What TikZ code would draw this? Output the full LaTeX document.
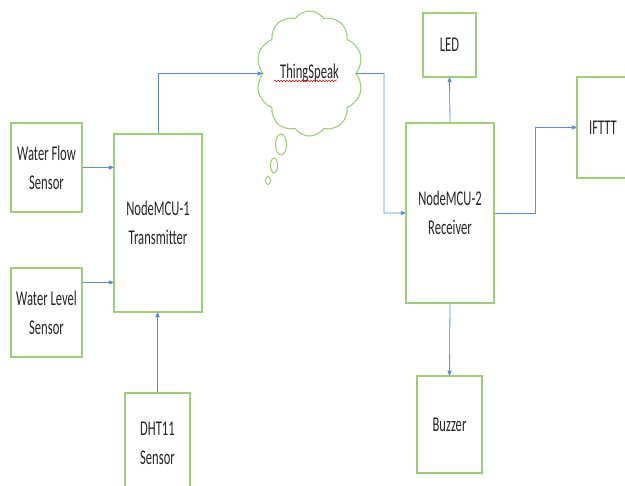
\documentclass[tikz,border=0pt]{standalone}
\usepackage{fontspec}
\setmainfont[FakeStretch=0.6]{Carlito}
\usetikzlibrary{arrows,shapes.symbols,decorations.pathmorphing}
\definecolor{boxgreen}{RGB}{156,208,120}
\definecolor{linkblue}{RGB}{92,140,222}

\begin{document}
\begin{tikzpicture}[->,>=stealth',x=1pt,y=-1pt,
  block/.style={draw=boxgreen,line width=1.1pt,rectangle,align=center,inner sep=0pt,
    text=black!85,font=\fontsize{21}{29}\selectfont},
  link/.style={color=linkblue,line width=0.8pt}]
\useasboundingbox (0,0) rectangle (625,486);

\node[block,minimum width=71pt,minimum height=89pt]  (flow)   at (46.5,167.5) {Water Flow\\Sensor};
\node[block,minimum width=71pt,minimum height=89pt]  (level)  at (46.5,312.5) {Water Level\\Sensor};
\node[block,minimum width=88pt,minimum height=178pt] (mcu1)   at (158,223)    {NodeMCU-1\\Transmitter};
\node[block,minimum width=65pt,minimum height=101pt] (dht)    at (157.5,443.5) {DHT11\\Sensor};
\node[block,cloud,cloud puffs=10,cloud puff arc=110,cloud ignores aspect,
      minimum width=107pt,minimum height=125pt]        (ts)     at (309.5,73.5) {ThingSpeak};
\node[block,minimum width=88pt,minimum height=180pt] (mcu2)   at (450,213)    {NodeMCU-2\\Receiver};
\node[block,minimum width=53pt,minimum height=64pt]  (led)    at (449.5,45)   {LED};
\node[block,minimum width=52pt,minimum height=101pt] (ifttt)  at (603,127.5)  {IFTTT};
\node[block,minimum width=65pt,minimum height=97pt]  (buzzer) at (449.5,424.5) {Buzzer};

\draw[-,boxgreen,line width=1.1pt] (281,144.5) ellipse [x radius=5.5pt,y radius=10.5pt];
\draw[-,boxgreen,line width=1.1pt] (274,165.5) ellipse [x radius=3.5pt,y radius=7.5pt];
\draw[-,boxgreen,line width=1.1pt] (268,180.5) ellipse [x radius=2.5pt,y radius=4pt];
\draw[-,red,line width=0.5pt,decorate,decoration={snake,amplitude=0.8pt,segment length=3pt}]
  ([xshift=-35.5pt,yshift=-7.5pt]ts.center) -- ([xshift=27.5pt,yshift=-7.5pt]ts.center);

\coordinate (levelout) at ([yshift=-15pt]level.north east);
\coordinate (tsdrop)   at (384,73.5);
\coordinate (mcu2turn) at (535,213);

\draw[link] (flow.east) -- (flow.east -| mcu1.west);
\draw[link] (levelout) -- (levelout -| mcu1.west);
\draw[link] (dht.north) -- (dht.north |- mcu1.south);
\draw[link] (mcu1.north) |- (ts.west);
\draw[link] (ts.east) -- (tsdrop) |- (mcu2.west);
\draw[link] (mcu2.north) -- (led.south);
\draw[link] (mcu2.east) -- (mcu2turn) |- (ifttt.west);
\draw[link] (mcu2.south) -- (buzzer.north);
\end{tikzpicture}
\end{document}
